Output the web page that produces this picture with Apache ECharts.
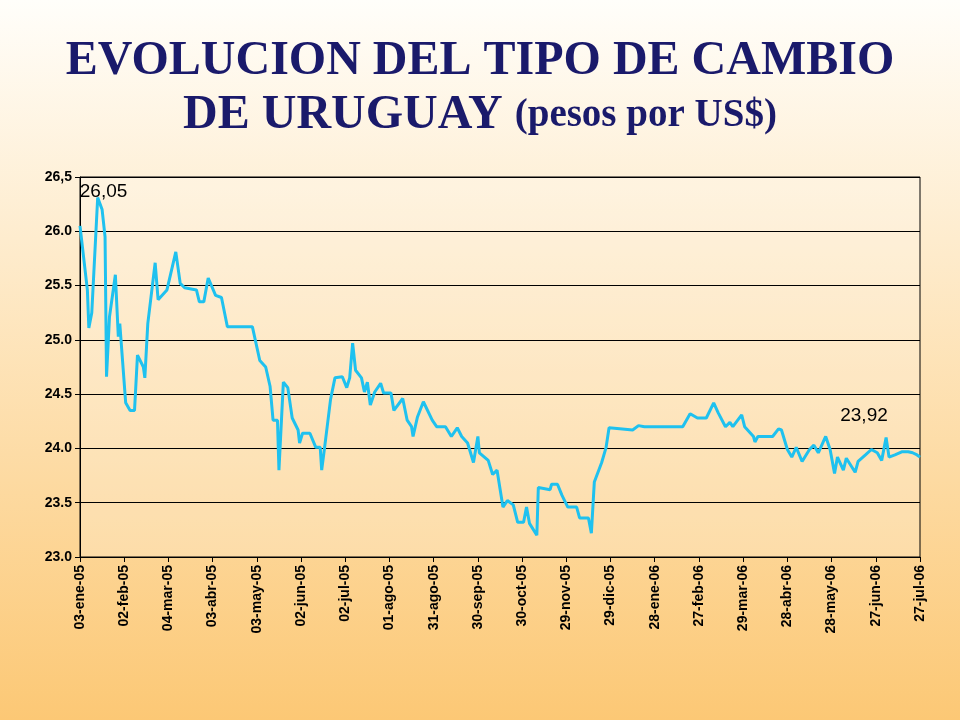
<!DOCTYPE html>
<html>
<head>
<meta charset="utf-8">
<script src="https://cdn.jsdelivr.net/npm/echarts@6/dist/echarts.min.js"></script>
<style>
html, body {margin: 0; padding: 0;}
#chart {width: 960px; height: 720px; background: linear-gradient(#fffefa, #fcc875);}
</style>
</head>
<body>
<div id="chart"></div>
<script>
// dias desde 03-ene-05 y tipo de cambio
var days = [0,1,5,6,8,12,15,17,18,20,24,26,27,31,34,37,39,43,44,46,51,53,59,65,68,71,79,81,84,87,92,96,100,117,122,126,129,131,134,135,138,141,144,148,149,151,156,160,163,164,166,170,173,178,181,183,185,187,191,193,195,197,200,204,206,211,213,219,222,225,226,229,233,239,242,248,252,256,259,263,267,270,271,277,280,283,287,290,294,297,301,303,305,310,311,319,320,324,327,331,337,339,345,347,349,354,357,359,368,375,379,383,409,414,419,425,430,433,438,441,443,449,451,457,458,460,470,474,476,480,483,486,490,495,498,501,506,509,512,514,518,520,526,528,533,537,541,544,547,549,553,558,562,565,568,570];
var rates = [26.05,26.06,25.46,25.11,25.25,26.31,26.2,25.95,24.66,25.21,25.6,25.03,25.15,24.42,24.35,24.35,24.86,24.75,24.65,25.15,25.71,25.37,25.46,25.81,25.52,25.48,25.46,25.35,25.35,25.57,25.41,25.39,25.12,25.12,24.81,24.75,24.57,24.26,24.26,23.80,24.61,24.56,24.28,24.17,24.05,24.14,24.14,24.01,24.01,23.80,24.01,24.45,24.65,24.66,24.56,24.65,24.97,24.72,24.65,24.52,24.61,24.40,24.52,24.60,24.51,24.51,24.35,24.46,24.26,24.20,24.11,24.29,24.43,24.26,24.20,24.20,24.11,24.19,24.11,24.05,23.87,24.11,23.96,23.89,23.76,23.80,23.46,23.52,23.48,23.32,23.32,23.46,23.31,23.20,23.64,23.62,23.67,23.67,23.57,23.46,23.46,23.36,23.36,23.22,23.69,23.87,24.01,24.19,24.18,24.17,24.21,24.20,24.20,24.32,24.28,24.28,24.42,24.33,24.20,24.24,24.20,24.31,24.20,24.11,24.06,24.11,24.11,24.18,24.17,23.99,23.92,24.01,23.88,23.99,24.03,23.96,24.11,23.99,23.77,23.92,23.80,23.91,23.78,23.88,23.94,23.99,23.96,23.89,24.10,23.92,23.94,23.97,23.97,23.96,23.94,23.92];
var dateLabels = ['03-ene-05','02-feb-05','04-mar-05','03-abr-05','03-may-05','02-jun-05','02-jul-05','01-ago-05','31-ago-05','30-sep-05','30-oct-05','29-nov-05','29-dic-05','28-ene-06','27-feb-06','29-mar-06','28-abr-06','28-may-06','27-jun-06','27-jul-06'];

var points = [];
for (var i = 0; i < days.length; i++) points.push([days[i], rates[i]]);

var myChart = echarts.init(document.getElementById('chart'));
var option = {
    title: {
        text: '{a|EVOLUCION DEL TIPO DE CAMBIO}\n{a|DE URUGUAY }{b|(pesos por US$)}',
        left: 'center', top: 30,
        textStyle: {
            rich: {
                a: {fontFamily: 'Liberation Serif', fontWeight: 'bold', fontSize: 48, color: '#1a1a6b', lineHeight: 54},
                b: {fontFamily: 'Liberation Serif', fontWeight: 'bold', fontSize: 39, color: '#1a1a6b', lineHeight: 54}
            }
        }
    },
    grid: {left: 80, right: 40, top: 177, bottom: 163, show: true, borderColor: '#000', borderWidth: 1, backgroundColor: 'rgba(255,255,255,0.2)'},
    xAxis: {
        type: 'value', min: 0, max: 570, interval: 30,
        axisLine: {lineStyle: {color: '#000'}},
        axisTick: {show: true, lineStyle: {color: '#000'}, length: 5},
        splitLine: {show: false},
        axisLabel: {
            rotate: 90, color: '#000', fontFamily: 'Liberation Sans', fontWeight: 'bold', fontSize: 14,
            formatter: function (v) { return dateLabels[Math.round(v / 30)]; }
        }
    },
    yAxis: {
        type: 'value', min: 23, max: 26.5, interval: 0.5,
        axisLine: {show: true, lineStyle: {color: '#000'}},
        axisTick: {show: true, lineStyle: {color: '#000'}},
        splitLine: {lineStyle: {color: '#000', width: 1}},
        axisLabel: {
            color: '#000', fontFamily: 'Liberation Sans', fontWeight: 'bold', fontSize: 14,
            formatter: function (v) { return v === 26.5 ? '26,5' : v.toFixed(1); }
        }
    },
    series: [{
        type: 'line', data: points, showSymbol: false,
        lineStyle: {color: '#1fc1ef', width: 3},
        markPoint: {
            symbolSize: 0,
            label: {show: true, color: '#000', fontFamily: 'Liberation Sans', fontSize: 19, formatter: '{b}'},
            data: [
                {name: '26,05', coord: [16, 26.36]},
                {name: '23,92', coord: [532, 24.3]}
            ]
        }
    }]
};
myChart.setOption(option, true);
</script>
</body>
</html>
